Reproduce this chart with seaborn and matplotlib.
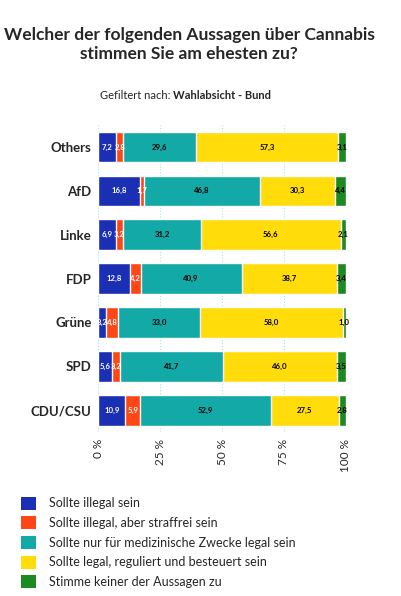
import numpy as np
import pandas as pd
import matplotlib.pyplot as plt
import seaborn as sns
from matplotlib.patches import Patch

# ------------------------------------------------------------
# Daten
# ------------------------------------------------------------
parteien = ["Others", "AfD", "Linke", "FDP", "Grüne", "SPD", "CDU/CSU"]
antworten = [
    "Sollte illegal sein",
    "Sollte illegal, aber straffrei sein",
    "Sollte nur für medizinische Zwecke legal sein",
    "Sollte legal, reguliert und besteuert sein",
    "Stimme keiner der Aussagen zu",
]
illegal = [7.2, 16.8, 6.9, 12.8, 3.2, 5.6, 10.9]
straffrei = [2.8, 1.7, 3.2, 4.2, 4.8, 3.2, 5.9]
medizinisch = [29.6, 46.8, 31.2, 40.9, 33.0, 41.7, 52.9]
legal = [57.3, 30.3, 56.6, 38.7, 58.0, 46.0, 27.5]
keine = [3.1, 4.4, 2.1, 3.4, 1.0, 3.5, 2.8]

farben = ["#1b2fb5", "#ff4616", "#13a9a6", "#ffdc0a", "#1c8a22"]
textfarben = ["white", "white", "black", "black", "black"]
x_ticks = [0, 25, 50, 75, 100]

df = pd.DataFrame([illegal, straffrei, medizinisch, legal, keine],
                  index=antworten, columns=parteien).T
kum = df.cumsum(axis=1)

# ------------------------------------------------------------
# Plot
# ------------------------------------------------------------
sns.set_theme(style="white")
plt.rcParams["font.family"] = ["Lato", "DejaVu Sans"]

fig = plt.figure(figsize=(4.02, 5.96), dpi=100)
ax = fig.add_axes([0.245, 0.275, 0.615, 0.515])

# gestapelt: von der groessten Summe zur kleinsten uebermalen
for i in reversed(range(len(antworten))):
    sns.barplot(x=kum.iloc[:, i].values, y=parteien, color=farben[i],
                orient="h", width=0.7, saturation=1, ax=ax, zorder=2)

# Werte in die Segmente schreiben
for j, partei in enumerate(parteien):
    for i, spalte in enumerate(antworten):
        wert = df.loc[partei, spalte]
        mitte = kum.loc[partei, spalte] - wert / 2
        ax.text(mitte, j, f"{wert:.1f}".replace(".", ","), ha="center", va="center",
                fontsize=5.6, fontweight="bold", color=textfarben[i], zorder=3)

ax.set_xlim(0, 100)
ax.set_xticks(x_ticks)
ax.set_xticklabels([f"{t} %" for t in x_ticks], rotation=90, fontsize=8.5)
ax.tick_params(axis="y", labelsize=9.5, length=0, pad=5)
ax.tick_params(axis="x", length=0, pad=5)
for lbl in ax.get_yticklabels():
    lbl.set_fontweight("bold")
ax.set_xlabel("")
ax.set_ylabel("")
ax.xaxis.grid(True, color="#9fe6e6", linestyle=":", linewidth=0.8, zorder=0)
ax.set_axisbelow(True)
sns.despine(ax=ax, left=True, bottom=True)

# Titel
fig.text(0.47, 0.925, "Welcher der folgenden Aussagen über Cannabis\nstimmen Sie am ehesten zu?",
         ha="center", va="center", fontsize=12.5, fontweight="bold", linespacing=1.25)
fig.text(0.43, 0.84, "Gefiltert nach: ", ha="right", va="center", fontsize=8)
fig.text(0.43, 0.84, "Wahlabsicht - Bund", ha="left", va="center", fontsize=8, fontweight="bold")

# Legende
handles = [Patch(facecolor=c, edgecolor="none") for c in farben]
fig.legend(handles, antworten, loc="upper left", bbox_to_anchor=(0.04, 0.175),
           frameon=False, fontsize=9, handlelength=1.2, handleheight=1.2,
           labelspacing=0.55, handletextpad=1.0, borderaxespad=0)

fig.savefig("out.png", dpi=100)
